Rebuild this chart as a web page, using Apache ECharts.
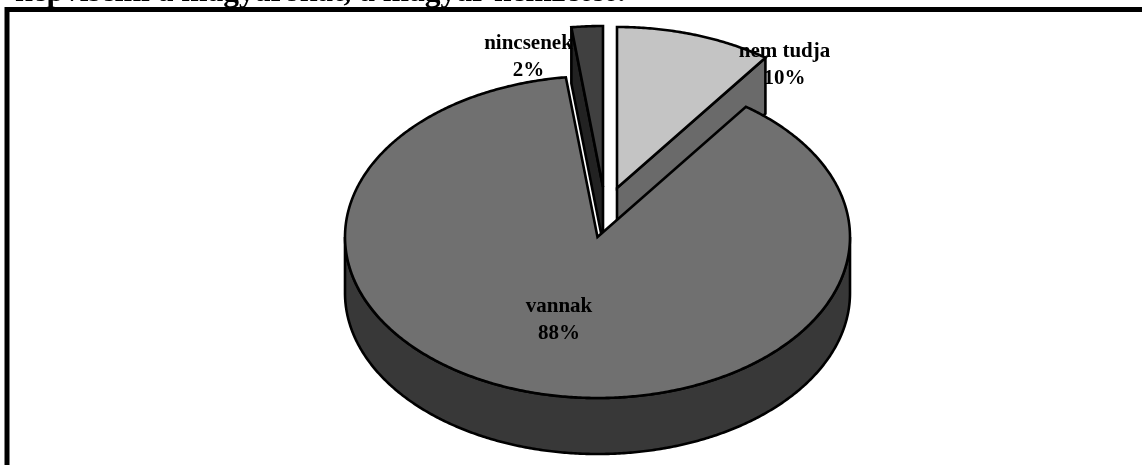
<!DOCTYPE html>
<html>
<head>
<meta charset="utf-8">
<style>html,body{margin:0;padding:0;background:#fff}#c{width:1142px;height:465px}</style>
<script src="https://cdn.jsdelivr.net/npm/echarts@6/dist/echarts.min.js"></script>
</head>
<body>
<div id="c"></div>
<script>
var titleText = 'képviselni a magyarokat, a magyar nemzetet?';
var categories = ['nem tudja', 'vannak', 'nincsenek'];
var values = [10, 88, 2];

var topColors = ['#c4c4c4', '#707070', '#404040'];
var wallColors = ['#6a6a6a', '#383838', '#222222'];
var apexes = [[617, 188], [597.5, 237], [603, 187]];
var labelAnchors = [[784.5, 65.5], [559, 320], [528.5, 57]];
var layers = [1, 5, 3];
var RX = 252.5, RY = 161, DEPTH = 56;
var FONT = '"Liberation Serif","Times New Roman",serif';

var total = values.reduce(function (a, b) { return a + b; }, 0);

function pt(c, deg, dy) {
  var r = deg * Math.PI / 180;
  return [c[0] + RX * Math.sin(r), c[1] - RY * Math.cos(r) + (dy || 0)];
}
function arc(c, a, b, dy) {
  var pts = [], n = Math.max(2, Math.ceil(Math.abs(b - a) * 2));
  for (var i = 0; i <= n; i++) pts.push(pt(c, a + (b - a) * i / n, dy));
  return pts;
}
function poly(points, fill, z2) {
  return {
    type: 'polygon', z2: z2,
    shape: { points: points },
    style: { fill: fill, stroke: '#000', lineWidth: 2.6, lineJoin: 'miter' }
  };
}
function edgeWall(c, deg, fill, z2) {
  var o = pt(c, deg);
  return poly([c, o, [o[0], o[1] + DEPTH], [c[0], c[1] + DEPTH]], fill, z2);
}

function renderItem(params, api) {
  var i = params.dataIndex, before = 0;
  for (var k = 0; k < i; k++) before += values[k];
  var a = before / total * 360, b = (before + api.value(0)) / total * 360;
  var c = apexes[i], z = layers[i] * 10, kids = [];
  var sa = Math.sin(a * Math.PI / 180), sb = Math.sin(b * Math.PI / 180);

  if (sa < -1e-6) kids.push(edgeWall(c, a, wallColors[i], z));
  if (sb > 1e-6) kids.push(edgeWall(c, b, wallColors[i], z));

  var fa = Math.max(a, 90), fb = Math.min(b, 270);
  if (fb > fa) {
    kids.push(poly(arc(c, fa, fb, 0).concat(arc(c, fb, fa, DEPTH)), wallColors[i], z + 1));
  }
  kids.push(poly([c].concat(arc(c, a, b, 0)), topColors[i], z + 2));
  kids.push({
    type: 'text', z2: 100,
    style: {
      x: labelAnchors[i][0], y: labelAnchors[i][1],
      text: categories[i] + '\n' + Math.round(api.value(0) / total * 100) + '%',
      font: 'bold 21px ' + FONT, fill: '#000',
      align: 'center', verticalAlign: 'middle', lineHeight: 27
    }
  });
  return { type: 'group', children: kids };
}

var chart = echarts.init(document.getElementById('c'), null, { renderer: 'canvas' });
chart.setOption({
  animation: false,
  backgroundColor: '#fff',
  title: {
    text: titleText, left: 15, top: -23.5, padding: 0,
    textStyle: { fontFamily: FONT, fontWeight: 'bold', fontSize: 31.5, color: '#000' }
  },
  graphic: [{
    type: 'rect', z: -1, silent: true,
    shape: { x: 7, y: 9.5, width: 1300, height: 600 },
    style: { fill: '#fff', stroke: '#000', lineWidth: 5 }
  }],
  series: [{
    type: 'custom',
    coordinateSystem: 'none',
    silent: true,
    clip: false,
    renderItem: renderItem,
    data: values.map(function (v, i) { return { name: categories[i], value: [v] }; })
  }]
});
</script>
</body>
</html>
